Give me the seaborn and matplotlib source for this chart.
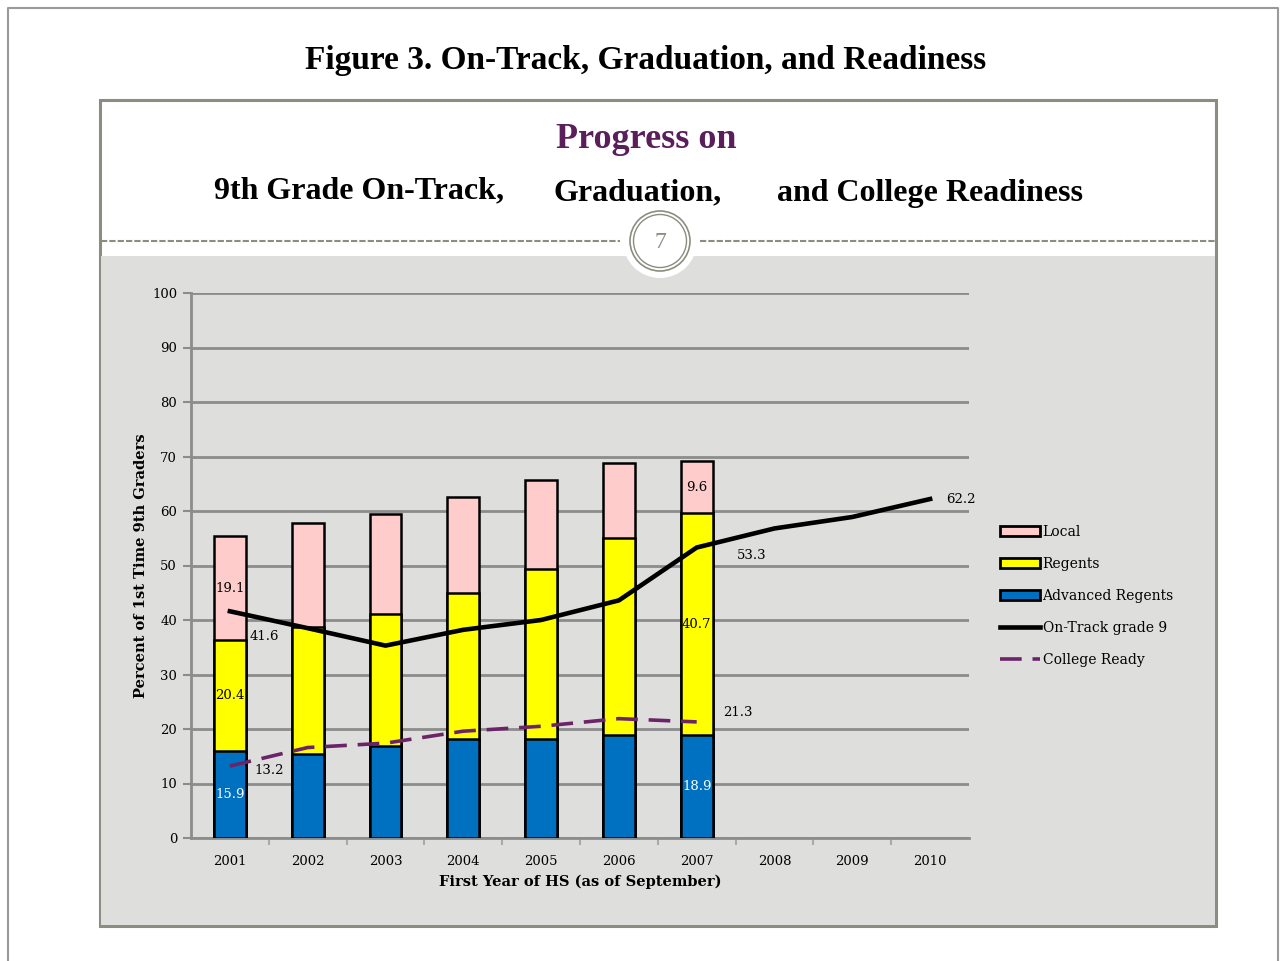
import numpy as np
import seaborn as sns
import matplotlib.pyplot as plt
from matplotlib.patches import Rectangle, Circle, Patch
from matplotlib.lines import Line2D

# data
years = ["2001", "2002", "2003", "2004", "2005", "2006", "2007", "2008", "2009", "2010"]
bar_years = years[:7]
advanced = [15.9, 15.4, 16.9, 18.1, 18.1, 18.9, 18.9]
regents = [20.4, 23.3, 24.2, 26.8, 31.2, 36.1, 40.7]
local = [19.1, 19.1, 18.3, 17.6, 16.3, 13.8, 9.6]
on_track = [41.6, 38.5, 35.3, 38.2, 40.0, 43.6, 53.3, 56.8, 58.9, 62.2]
college_ready = [13.2, 16.6, 17.4, 19.6, 20.5, 21.9, 21.3]

PINK = "#FFCCCC"
YELLOW = "#FFFF00"
BLUE = "#0070C0"
PURPLE = "#6B2468"
BG = "#DEDEDC"
FRAME = "#8C8C80"
SERIF = "DejaVu Serif"

W, H = 1281, 961
fig = plt.figure(figsize=(W / 100, H / 100), dpi=100)

# --- page / slide decoration in pixel coordinates ---
bg = fig.add_axes([0, 0, 1, 1])
bg.set_xlim(0, W)
bg.set_ylim(H, 0)
bg.axis("off")
bg.plot([8, 8, 1278, 1278], [H, 8, 8, H], color="#9A9A9A", lw=1.5)
bg.add_patch(Rectangle((100, 100), 1116, 826, facecolor="white", edgecolor=FRAME, lw=2.2))
bg.add_patch(Rectangle((101, 256), 1114, 669, facecolor=BG, edgecolor="none"))
bg.add_patch(Circle((660, 241), 37, facecolor="white", edgecolor="none"))
bg.plot([101, 620], [241, 241], color=FRAME, lw=1.5, ls=(0, (3, 1)))
bg.plot([700, 1215], [241, 241], color=FRAME, lw=1.5, ls=(0, (3, 1)))
bg.add_patch(Circle((660, 241), 30, facecolor="white", edgecolor=FRAME, lw=1.2))
bg.add_patch(Circle((660, 241), 26.5, facecolor="none", edgecolor=FRAME, lw=1.0))
bg.text(660, 243, "7", ha="center", va="center", fontsize=17, color=FRAME, family="Liberation Serif")

bg.text(646, 61, "Figure 3. On-Track, Graduation, and Readiness", ha="center", va="center",
        fontsize=24, fontweight="bold", family="Liberation Serif")
bg.text(646, 139, "Progress on", ha="center", va="center", fontsize=26,
        fontweight="bold", color="#5A1E5A", family="Liberation Serif")
bg.text(359, 191, "9th Grade On-Track,", ha="center", va="center", fontsize=23,
        fontweight="bold", family="Liberation Serif")
bg.text(638, 193, "Graduation,", ha="center", va="center", fontsize=23,
        fontweight="bold", family="Liberation Serif")
bg.text(930, 193, "and College Readiness", ha="center", va="center", fontsize=23,
        fontweight="bold", family="Liberation Serif")

# --- chart ---
ax = fig.add_axes([191 / W, 1 - 838 / H, 778 / W, 545 / H])
ax.set_facecolor(BG)

regents_top = [a + r for a, r in zip(advanced, regents)]
local_top = [t + l for t, l in zip(regents_top, local)]

for vals, col in [(local_top, PINK), (regents_top, YELLOW), (advanced, BLUE)]:
    sns.barplot(x=bar_years, y=vals, order=years, color=col, edgecolor="black",
                linewidth=1.8, width=0.41, saturation=1, ax=ax, zorder=3)

pos = np.arange(len(years))
sns.lineplot(x=pos, y=on_track, color="black", linewidth=3.3, ax=ax, zorder=4)
sns.lineplot(x=pos[:len(college_ready)], y=college_ready, color=PURPLE, linewidth=2.6,
             linestyle=(0, (6, 3)), ax=ax, zorder=4)

# segment labels (first and last bar)
for i in [0, 6]:
    ax.text(i, advanced[i] / 2, f"{advanced[i]}", ha="center", va="center",
            color="white", fontsize=9.5, family=SERIF, zorder=5)
    ax.text(i, advanced[i] + regents[i] / 2, f"{regents[i]}", ha="center", va="center",
            fontsize=9.5, family=SERIF, zorder=5)
    ax.text(i, regents_top[i] + local[i] / 2, f"{local[i]}", ha="center", va="center",
            fontsize=9.5, family=SERIF, zorder=5)

# line labels, offsets in pixels
px = 0.72
for i, v, dx, dy in [(0, on_track[0], 34, 25), (6, on_track[6], 55, 8), (9, on_track[9], 31, 0)]:
    ax.annotate(f"{v}", (i, v), xytext=(dx * px, -dy * px), textcoords="offset points",
                ha="center", va="center", fontsize=9.5, family=SERIF, zorder=5)
for i, v, dx, dy in [(0, college_ready[0], 39, 4), (6, college_ready[6], 41, -9)]:
    ax.annotate(f"{v}", (i, v), xytext=(dx * px, -dy * px), textcoords="offset points",
                ha="center", va="center", fontsize=9.5, family=SERIF, zorder=5)

ax.set_xlim(-0.5, 9.5)
ax.set_ylim(0, 100)
ax.set_yticks(range(0, 101, 10))
ax.set_xticks(pos)
ax.set_xticklabels(years)
ax.set_xticks(np.arange(0.5, 9.5, 1), minor=True)
ax.yaxis.grid(True, color="#8C8C8C", lw=2)
ax.xaxis.grid(False)
ax.set_axisbelow(True)
for s in ["top", "right"]:
    ax.spines[s].set_visible(False)
for s in ["left", "bottom"]:
    ax.spines[s].set_color("#8C8C8C")
    ax.spines[s].set_linewidth(2)
ax.tick_params(axis="y", length=6, width=1.5, color="#8C8C8C", labelsize=9.5, pad=4)
ax.tick_params(axis="x", which="major", length=0, labelsize=9.5, pad=12)
ax.tick_params(axis="x", which="minor", length=5, width=1.5, color="#AAAAAA")
for lab in ax.get_xticklabels() + ax.get_yticklabels():
    lab.set_family(SERIF)
ax.set_xlabel("First Year of HS (as of September)", fontsize=10.5, fontweight="bold",
              family=SERIF, labelpad=5)
ax.set_ylabel("Percent of 1st Time 9th Graders", fontsize=10.5, fontweight="bold",
              family=SERIF, labelpad=3)

handles = [
    Patch(facecolor=PINK, edgecolor="black", lw=2),
    Patch(facecolor=YELLOW, edgecolor="black", lw=2),
    Patch(facecolor=BLUE, edgecolor="black", lw=2),
    Line2D([], [], color="black", lw=3.3),
    Line2D([], [], color=PURPLE, lw=2.6, ls=(0, (6, 3))),
]
labels = ["Local", "Regents", "Advanced Regents", "On-Track grade 9", "College Ready"]
fig.legend(handles, labels, loc="upper left", bbox_to_anchor=(987 / W, 1 - 512 / H),
           frameon=False, handlelength=2.9, handletextpad=0.2, labelspacing=1.3,
           prop={"family": SERIF, "size": 10})

fig.savefig("out.png", dpi=100)
